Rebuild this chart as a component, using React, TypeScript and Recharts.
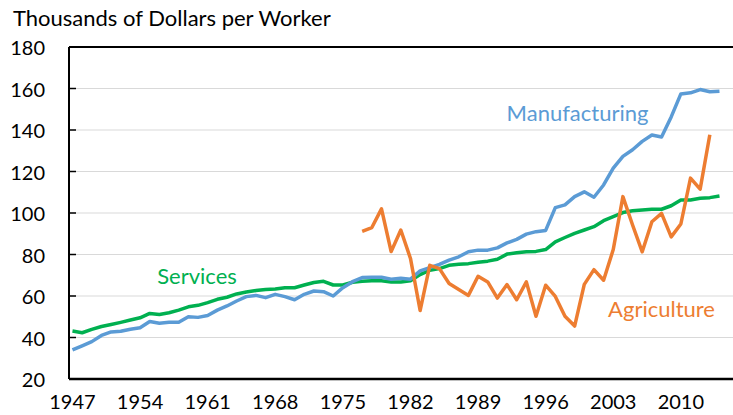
import React from "react";
import {
  LineChart,
  Line,
  XAxis,
  YAxis,
  CartesianGrid,
  ReferenceLine,
  ReferenceDot,
} from "recharts";

const years: number[] = [];
for (let y = 1947; y <= 2014; y++) years.push(y);

const manufacturing = [
  34, 36, 38, 41, 42.7, 43, 44, 44.7, 47.7, 46.9, 47.3, 47.3, 50, 49.7, 50.6,
  53.2, 55.2, 57.6, 59.7, 60.3, 59.2, 60.8, 59.7, 58.2, 60.8, 62.4, 62.1, 60,
  64, 66.9, 68.9, 69, 69, 68.1, 68.5, 68.1, 72.1, 73.7, 75.2, 77.3, 78.9, 81.3,
  82.1, 82.1, 83.2, 85.6, 87.3, 89.8, 91, 91.6, 102.6, 103.9, 107.9, 110.2,
  107.6, 113.5, 121.6, 127.3, 130.5, 134.5, 137.6, 136.6, 146.3, 157.4, 157.9,
  159.5, 158.4, 158.7,
];

const services = [
  43.1, 42.3, 43.9, 45.3, 46.3, 47.3, 48.4, 49.5, 51.6, 51.1, 51.9, 53.2, 54.8,
  55.5, 56.8, 58.4, 59.4, 61, 61.9, 62.6, 63.1, 63.4, 64, 64, 65.3, 66.5, 67.1,
  65.3, 65.3, 66.6, 67.1, 67.4, 67.3, 66.8, 66.7, 67.3, 70.3, 72.4, 73.2, 74.8,
  75.3, 75.6, 76.3, 76.8, 77.7, 80.2, 80.8, 81.3, 81.5, 82.4, 86.1, 88.2, 90.2,
  91.8, 93.4, 96.3, 98.2, 100.2, 101.1, 101.5, 101.8, 101.8, 103.5, 106.3,
  106.3, 107.1, 107.4, 108.2,
];

// Agriculture starts in 1977 and ends in 2013
const agricultureStart = 1977;
const agriculture = [
  91.2, 93, 102, 81.4, 91.8, 78.1, 53, 74.8, 73.2, 66, 63.1, 60.3, 69.5, 66.8,
  59, 65.5, 58.2, 66.8, 50.2, 65.2, 59.8, 50.2, 45.5, 65.6, 72.7, 67.6, 82.4,
  107.9, 94.2, 81.3, 95.8, 99.8, 88.5, 94.7, 116.8, 111.5, 137.7,
];

const xTicks = [1947, 1954, 1961, 1968, 1975, 1982, 1989, 1996, 2003, 2010];
const yTicks = [20, 40, 60, 80, 100, 120, 140, 160, 180];

const data = years.map((year, i) => {
  const ai = year - agricultureStart;
  return {
    year,
    manufacturing: manufacturing[i],
    services: services[i],
    agriculture: ai >= 0 && ai < agriculture.length ? agriculture[ai] : null,
  };
});

const FONT = "Lato, 'Open Sans', sans-serif";
const BLUE = "#5B9BD5";
const ORANGE = "#ED7D31";
const GREEN = "#00B050";

const YTick = (props: any) => {
  const { x, y, payload } = props;
  return (
    <g>
      {payload.value !== 20 && payload.value !== 180 ? (
        <line x1={x + 24} x2={x + 31} y1={y} y2={y} stroke="#000" strokeWidth={1.5} />
      ) : null}
      <text
        x={x}
        y={y}
        textAnchor="end"
        dominantBaseline="central"
        fontFamily={FONT}
        fontSize={20}
        fill="#000"
      >
        {payload.value}
      </text>
    </g>
  );
};

export default function App() {
  return (
    <div
      style={{
        position: "absolute",
        left: 0,
        top: 0,
        width: 733,
        height: 415,
        background: "#fff",
        fontFamily: FONT,
      }}
    >
      <div
        style={{
          position: "absolute",
          left: 13,
          top: 3,
          fontSize: 22,
          color: "#000",
          whiteSpace: "nowrap",
          lineHeight: "30px",
        }}
      >
        Thousands of Dollars per Worker
      </div>
      <LineChart
        width={733}
        height={415}
        data={data}
        margin={{ top: 47, right: 0, bottom: 0, left: 0 }}
      >
        <CartesianGrid vertical={false} stroke="#D9D9D9" strokeWidth={1} />
        <XAxis
          dataKey="year"
          type="number"
          domain={[1946.64, 2015.4]}
          ticks={xTicks}
          tickLine={false}
          tickSize={0}
          tickMargin={16}
          height={36}
          axisLine={{ stroke: "#000", strokeWidth: 2.5 }}
          tick={{ fill: "#000", fontSize: 20, fontFamily: FONT }}
          interval={0}
          allowDataOverflow
        />
        <YAxis
          type="number"
          domain={[20, 180]}
          ticks={yTicks}
          width={69}
          tickLine={false}
          tickSize={0}
          tickMargin={24}
          axisLine={{ stroke: "#000", strokeWidth: 2 }}
          tick={<YTick />}
          interval={0}
        />
        <ReferenceLine y={180} stroke="#000" strokeWidth={2} />
        <Line
          dataKey="services"
          stroke={GREEN}
          strokeWidth={3.5}
          dot={false}
          isAnimationActive={false}
          strokeLinejoin="round"
        />
        <Line
          dataKey="manufacturing"
          stroke={BLUE}
          strokeWidth={3.5}
          dot={false}
          isAnimationActive={false}
          strokeLinejoin="round"
        />
        <Line
          dataKey="agriculture"
          stroke={ORANGE}
          strokeWidth={3.5}
          dot={false}
          isAnimationActive={false}
          connectNulls={false}
          strokeLinejoin="round"
        />
        <ReferenceDot
          x={1999.3}
          y={148.2}
          r={0}
          label={{ value: "Manufacturing", position: "center", fill: BLUE, fontSize: 22, fontFamily: FONT }}
        />
        <ReferenceDot
          x={1959.9}
          y={69.6}
          r={0}
          label={{ value: "Services", position: "center", fill: GREEN, fontSize: 22, fontFamily: FONT }}
        />
        <ReferenceDot
          x={2008.0}
          y={53.7}
          r={0}
          label={{ value: "Agriculture", position: "center", fill: ORANGE, fontSize: 22, fontFamily: FONT }}
        />
      </LineChart>
    </div>
  );
}
